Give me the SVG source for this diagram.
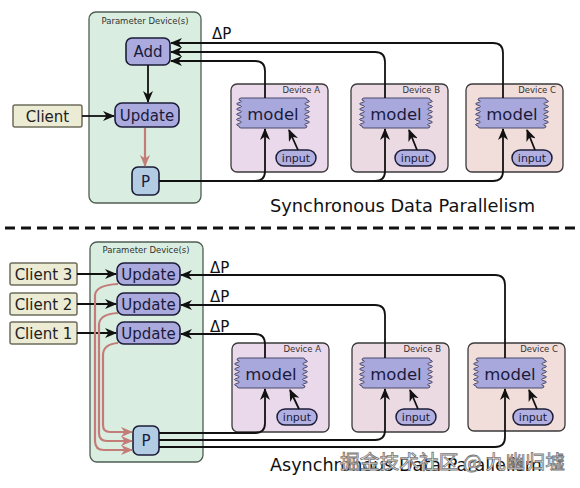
<svg xmlns="http://www.w3.org/2000/svg" width="580" height="488" viewBox="0 0 580 488">
<style>
text{font-family:"DejaVu Sans","Liberation Sans",sans-serif}
.pd{fill:#d9eee0;stroke:#4d5e53;stroke-width:1.3}
.pdl{font-size:8.5px;fill:#333;text-anchor:middle}
.op{fill:#aaaade;stroke:#1c1c38;stroke-width:1.6}
.pp{fill:#b2cce4;stroke:#1c1c38;stroke-width:1.6}
.cl{fill:#ecebd4;stroke:#6e6e5c;stroke-width:1.5}
.t15{font-size:15px;fill:#1a1a3a;text-anchor:middle}
.dev{stroke:#3a3a3a;stroke-width:1.3}
.dl{font-size:8.5px;fill:#333;text-anchor:end}
.md{fill:#a9a8dd;stroke:#4a4a6a;stroke-width:1}
.mt{font-size:16.5px;fill:#1a1a3a;text-anchor:middle}
.in{fill:#b1b0e0;stroke:#1c1c38;stroke-width:1.5}
.it{font-size:11px;fill:#1a1a3a;text-anchor:middle}
.ln{fill:none;stroke:#111;stroke-width:1.8;marker-end:url(#ah)}
.rd{fill:none;stroke:#c47c78;stroke-width:2.2;marker-end:url(#ahr)}
.dp{font-size:15px;fill:#111}
.ttl{font-size:17px;fill:#111}
</style>
<defs>
<marker id="ah" viewBox="0 0 12 10" refX="11" refY="5" markerWidth="12" markerHeight="10" markerUnits="userSpaceOnUse" orient="auto"><path d="M0,0 L12,5 L0,10 L3.5,5 z" fill="#111"/></marker>
<marker id="ahr" viewBox="0 0 12 10" refX="11" refY="5" markerWidth="12" markerHeight="10" markerUnits="userSpaceOnUse" orient="auto"><path d="M0,0 L12,5 L0,10 L3.5,5 z" fill="#c47c78"/></marker>
<path id="mshape" d="M2,0 H66 Q68,0 68,2 q5,1.3 0,2.6 q-5,1.3 0,2.6 q5,1.3 0,2.6 q-5,1.3 0,2.6 q5,1.3 0,2.6 q-5,1.3 0,2.6 q5,1.3 0,2.6 q-5,1.3 0,2.6 q5,1.3 0,2.6 q-5,1.3 0,2.6 Q68,30 66,30 H2 Q0,30 0,28 q-5,-1.3 0,-2.6 q5,-1.3 0,-2.6 q-5,-1.3 0,-2.6 q5,-1.3 0,-2.6 q-5,-1.3 0,-2.6 q5,-1.3 0,-2.6 q-5,-1.3 0,-2.6 q5,-1.3 0,-2.6 q-5,-1.3 0,-2.6 q5,-1.3 0,-2.6 Q0,0 2,0 Z"/>
</defs>
<rect width="580" height="488" fill="#fff"/>

<!-- ===== Synchronous ===== -->
<g id="param-sync">
<rect class="pd" x="89" y="12" width="112" height="191" rx="7"/>
<text class="pdl" x="145" y="24">Parameter Device(s)</text>
</g>
<g id="add"><rect class="op" x="126" y="38" width="44" height="27" rx="6"/><text class="t15" x="148" y="57">Add</text></g>
<g id="update-sync"><rect class="op" x="115" y="103" width="64" height="24" rx="7"/><text class="t15" x="147" y="121">Update</text></g>
<g id="p-sync"><rect class="pp" x="132" y="167" width="27" height="28" rx="6"/><text class="t15" x="145.5" y="187">P</text></g>
<g id="client"><rect class="cl" x="13" y="105" width="69" height="22" rx="2"/><text class="t15" x="47.5" y="121.5" style="fill:#222">Client</text></g>

<g id="devA-sync"><rect class="dev" x="231" y="84" width="97" height="88" rx="6" fill="#e9d9ea"/><text class="dl" x="320" y="93">Device A</text>
<use href="#mshape" class="md" x="239" y="98"/><text class="mt" x="273" y="119.5">model</text>
<rect class="in" x="276" y="150" width="40" height="16" rx="8"/><text class="it" x="296" y="162">input</text></g>
<g id="devB-sync"><rect class="dev" x="351" y="84" width="97" height="88" rx="6" fill="#ecdae3"/><text class="dl" x="440" y="93">Device B</text>
<use href="#mshape" class="md" x="362" y="98"/><text class="mt" x="396" y="119.5">model</text>
<rect class="in" x="395" y="150" width="40" height="16" rx="8"/><text class="it" x="415" y="162">input</text></g>
<g id="devC-sync"><rect class="dev" x="466" y="84" width="97" height="88" rx="6" fill="#f1ddd9"/><text class="dl" x="556" y="93">Device C</text>
<use href="#mshape" class="md" x="478" y="98"/><text class="mt" x="512" y="119.5">model</text>
<rect class="in" x="512" y="150" width="40" height="16" rx="8"/><text class="it" x="532" y="162">input</text></g>

<g id="connectors-sync">
<path class="ln" d="M503,98 V53 Q503,43 493,43 H171"/>
<path class="ln" d="M385,98 V62 Q385,52 375,52 H171"/>
<path class="ln" d="M265,98 V71 Q265,61 255,61 H171"/>
<path class="ln" d="M148,65 V102"/>
<path class="ln" d="M82,116 H114"/>
<path class="rd" d="M145,128 V166"/>
<path class="ln" d="M159,181 H255 Q265,181 265,171 V129"/>
<path class="ln" d="M159,181 H375 Q385,181 385,171 V129"/>
<path class="ln" d="M159,181 H493 Q503,181 503,171 V129"/>
<path class="ln" d="M298,150 L289,130"/>
<path class="ln" d="M417,150 L409,130"/>
<path class="ln" d="M535,150 L527,130"/>
</g>
<text class="dp" x="212" y="39">ΔP</text>
<text class="ttl" x="270" y="212" textLength="265" lengthAdjust="spacingAndGlyphs">Synchronous Data Parallelism</text>

<line x1="5" y1="228" x2="576" y2="228" stroke="#111" stroke-width="3" stroke-dasharray="10,6"/>

<!-- ===== Asynchronous ===== -->
<g id="param-async">
<rect class="pd" x="90" y="242" width="113" height="220" rx="7"/>
<text class="pdl" x="146" y="253">Parameter Device(s)</text>
</g>
<g id="update3"><rect class="op" x="117" y="263" width="63" height="22" rx="7"/><text class="t15" x="148.5" y="280">Update</text></g>
<g id="update2"><rect class="op" x="117" y="293" width="63" height="22" rx="7"/><text class="t15" x="148.5" y="310">Update</text></g>
<g id="update1"><rect class="op" x="117" y="322" width="63" height="22" rx="7"/><text class="t15" x="148.5" y="339">Update</text></g>
<g id="client3"><rect class="cl" x="10" y="263" width="67" height="22" rx="2"/><text class="t15" x="43.5" y="280" style="fill:#222">Client 3</text></g>
<g id="client2"><rect class="cl" x="10" y="293" width="67" height="22" rx="2"/><text class="t15" x="43.5" y="310" style="fill:#222">Client 2</text></g>
<g id="client1"><rect class="cl" x="10" y="322" width="67" height="22" rx="2"/><text class="t15" x="43.5" y="339" style="fill:#222">Client 1</text></g>
<g id="p-async"><rect class="pp" x="133" y="426" width="26" height="29" rx="6"/><text class="t15" x="146" y="446">P</text></g>

<g id="devA-async"><rect class="dev" x="232" y="343" width="97" height="89" rx="6" fill="#e9d9ea"/><text class="dl" x="321" y="352">Device A</text>
<use href="#mshape" class="md" x="237" y="358"/><text class="mt" x="271" y="379.5">model</text>
<rect class="in" x="277" y="409" width="40" height="16" rx="8"/><text class="it" x="297" y="421">input</text></g>
<g id="devB-async"><rect class="dev" x="352" y="343" width="97" height="89" rx="6" fill="#ecdae3"/><text class="dl" x="441" y="352">Device B</text>
<use href="#mshape" class="md" x="362" y="358"/><text class="mt" x="396" y="379.5">model</text>
<rect class="in" x="396" y="409" width="40" height="16" rx="8"/><text class="it" x="416" y="421">input</text></g>
<g id="devC-async"><rect class="dev" x="468" y="343" width="97" height="88" rx="6" fill="#f1ddd9"/><text class="dl" x="558" y="352">Device C</text>
<use href="#mshape" class="md" x="476" y="358"/><text class="mt" x="510" y="379.5">model</text>
<rect class="in" x="513" y="409" width="40" height="16" rx="8"/><text class="it" x="533" y="421">input</text></g>

<g id="connectors-async">
<path class="ln" d="M505,358 V285 Q505,275 495,275 H181"/>
<path class="ln" d="M385,358 V315 Q385,305 375,305 H181"/>
<path class="ln" d="M265,358 V344 Q265,334 255,334 H181"/>
<path class="ln" d="M77,274 H116"/>
<path class="ln" d="M77,304 H116"/>
<path class="ln" d="M77,333 H116"/>
<path class="ln" d="M159,433 H255 Q265,433 265,423 V389"/>
<path class="ln" d="M159,440 H375 Q385,440 385,430 V389"/>
<path class="ln" d="M159,447 H495 Q505,447 505,437 V389"/>
<path class="ln" d="M299,409 L290,390"/>
<path class="ln" d="M418,409 L410,390"/>
<path class="ln" d="M537,409 L529,390"/>
<path class="rd" d="M118,284 Q96,285 95,295 V441 Q95,450 104,450 H132"/>
<path class="rd" d="M118,313 Q100,314 99,324 V433 Q99,441 107,441 H132"/>
<path class="rd" d="M118,343 Q104,344 103,354 V425 Q103,432 110,432 H132"/>
</g>
<text class="dp" x="210" y="273">ΔP</text>
<text class="dp" x="210" y="302">ΔP</text>
<text class="dp" x="210" y="332">ΔP</text>
<text class="ttl" x="270" y="471" textLength="272" lengthAdjust="spacingAndGlyphs">Asynchronous Data Parallelism</text>
<text x="340" y="469" font-size="19" fill="#fff" stroke="#777" stroke-width="0.8" style="font-family:'Noto Sans CJK SC','DejaVu Sans',sans-serif" textLength="225" lengthAdjust="spacingAndGlyphs">掘金技术社区 @ 九幽归墟</text>
</svg>
